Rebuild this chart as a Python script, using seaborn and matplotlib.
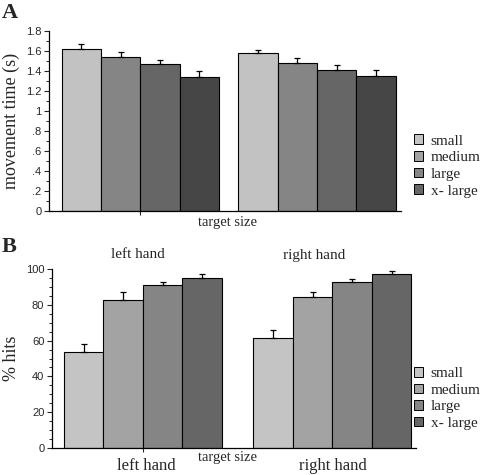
import numpy as np
import pandas as pd
import matplotlib
matplotlib.use("Agg")
import matplotlib.pyplot as plt
import seaborn as sns
from matplotlib.patches import Patch
from matplotlib.ticker import MultipleLocator, FixedLocator, FixedFormatter

# ---------------- data ----------------
sizes = ["small", "medium", "large", "x- large"]
groups_a = ["G1", "G2"]
mt_left = [1.62, 1.537, 1.47, 1.337]
mt_left_err = [0.05, 0.05, 0.037, 0.06]
mt_right = [1.577, 1.483, 1.407, 1.35]
mt_right_err = [0.036, 0.047, 0.05, 0.057]

hands = ["left hand", "right hand"]
hits_left = [53.5, 82.6, 91.0, 95.1]
hits_left_err = [4.4, 4.5, 1.7, 2.3]
hits_right = [61.3, 84.3, 92.7, 97.6]
hits_right_err = [4.7, 2.8, 1.7, 1.5]

ytick_vals_a = [0, 0.2, 0.4, 0.6, 0.8, 1.0, 1.2, 1.4, 1.6, 1.8]
ytick_labels_a = ["0", ".2", ".4", ".6", ".8", "1", "1.2", "1.4", "1.6", "1.8"]
ytick_vals_b = [0, 20, 40, 60, 80, 100]

colors_a = ["#c2c2c2", "#858585", "#666666", "#464646"]
colors_b = ["#c4c4c4", "#a3a3a3", "#858585", "#666666"]

serif = ["Liberation Serif", "DejaVu Serif"]
sans = ["Liberation Sans", "DejaVu Sans"]

W, H = 488, 475
fig = plt.figure(figsize=(W / 100, H / 100), dpi=100)
sns.set_style("white")
plt.rcParams["font.family"] = sans


def px_axes(x0, x1, y_top, y_bot):
    return fig.add_axes([x0 / W, 1 - y_bot / H, (x1 - x0) / W, (y_bot - y_top) / H])


def draw_panel(ax, group_names, vals_l, err_l, vals_r, err_r, palette, width):
    df = pd.DataFrame({
        "group": [group_names[0]] * 4 + [group_names[1]] * 4,
        "size": sizes * 2,
        "value": vals_l + vals_r,
    })
    errs = err_l + err_r
    sns.barplot(data=df, x="group", y="value", hue="size", hue_order=sizes,
                order=group_names, palette=palette, width=width, dodge=True,
                edgecolor="black", linewidth=0.8, errorbar=None, ax=ax,
                legend=False, saturation=1)
    patches = [p for p in ax.patches if p.get_height() > 0]
    for hi in range(4):
        for gi in range(2):
            p = patches[hi * 2 + gi]
            xc = p.get_x() + p.get_width() / 2
            top = p.get_height()
            e = errs[gi * 4 + hi]
            ax.errorbar([xc], [top], yerr=[[0], [e]], fmt="none", ecolor="black",
                        elinewidth=0.9, capsize=2.2, capthick=0.9)
    ax.set_xlabel("")
    ax.set_ylabel("")
    for s in ["top", "right"]:
        ax.spines[s].set_visible(False)
    for s in ["left", "bottom"]:
        ax.spines[s].set_color("black")
        ax.spines[s].set_linewidth(0.9)
    ax.xaxis.set_major_locator(FixedLocator([0]))
    ax.set_xticklabels([""])
    ax.tick_params(axis="x", direction="out", length=3, width=0.8, bottom=True)
    ax.tick_params(axis="y", which="major", direction="out", length=3.5, width=0.8,
                   labelsize=8, pad=2, left=True)
    ax.tick_params(axis="y", which="minor", direction="out", length=2, width=0.7, left=True)


# ---------------- panel A ----------------
axA = px_axes(49, 401, 31, 211)
draw_panel(axA, groups_a, mt_left, mt_left_err, mt_right, mt_right_err, colors_a, 0.892)
axA.set_ylim(0, 1.8)
axA.set_xlim(-0.518, 1.476)
axA.yaxis.set_major_locator(FixedLocator(ytick_vals_a))
axA.yaxis.set_major_formatter(FixedFormatter(ytick_labels_a))
axA.yaxis.set_minor_locator(MultipleLocator(0.1))
axA.set_ylabel("movement time (s)", family=serif, fontsize=13, labelpad=4)

# ---------------- panel B ----------------
axB = px_axes(52, 416, 269.3, 447.7)
draw_panel(axB, hands, hits_left, hits_left_err, hits_right, hits_right_err, colors_b, 0.834)
axB.set_ylim(0, 100)
axB.set_xlim(-0.480, 1.441)
axB.yaxis.set_major_locator(FixedLocator(ytick_vals_b))
axB.yaxis.set_minor_locator(MultipleLocator(5))
axB.set_ylabel("% hits", family=serif, fontsize=13, labelpad=4)

# ---------------- texts ----------------
def ftext(x, y, s, **kw):
    fig.text(x / W, 1 - y / H, s, **kw)

ftext(2, 13, "A", family=serif, fontsize=16, fontweight="bold", va="center", ha="left")
ftext(2, 247, "B", family=serif, fontsize=16, fontweight="bold", va="center", ha="left")
ftext(227, 222, "target size", family=serif, fontsize=10.5, ha="center", va="center")
ftext(228, 458, "target size", family=serif, fontsize=10.5, ha="center", va="center")
ftext(138, 255, "left hand", family=serif, fontsize=11, ha="center", va="center")
ftext(314, 255, "right hand", family=serif, fontsize=11, ha="center", va="center")
ftext(146, 466, "left hand", family=serif, fontsize=12, ha="center", va="center")
ftext(333, 466, "right hand", family=serif, fontsize=12, ha="center", va="center")

# ---------------- legends ----------------
leg_colors = colors_b
for ax, yc in [(axA, 166), (axB, 398.5)]:
    handles = [Patch(facecolor=c, edgecolor="black", linewidth=0.7) for c in leg_colors]
    fig.legend(handles, sizes, loc="center left",
               bbox_to_anchor=(414 / W, 1 - yc / H), frameon=False,
               prop={"family": serif, "size": 11}, handlelength=0.6,
               handleheight=0.6, handletextpad=0.5, labelspacing=0.22,
               borderpad=0, borderaxespad=0)

fig.savefig("out.png", dpi=100)
